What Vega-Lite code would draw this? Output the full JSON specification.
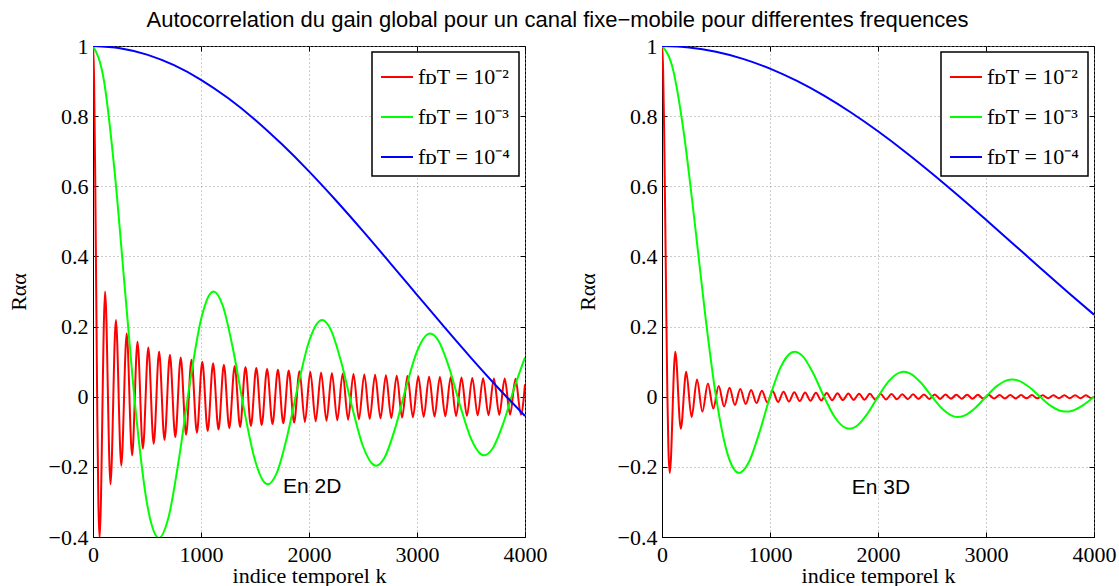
{
  "$schema": "https://vega.github.io/schema/vega-lite/v6.json",
  "padding": {"left": 6, "top": 8, "right": 0, "bottom": 0},
  "background": "white",
  "title": {"text": "Autocorrelation du gain global pour un canal fixe−mobile pour differentes frequences", "font": "Liberation Sans", "fontSize": 22, "fontWeight": "normal", "color": "black", "anchor": "middle", "dx": -4, "offset": 3},
  "config": {
    "view": {"stroke": "black", "strokeWidth": 1},
    "axis": {"labelFont": "Liberation Serif", "labelFontSize": 22, "labelColor": "black", "titleFont": "Liberation Serif", "titleFontSize": 22, "titleFontWeight": "normal", "titleColor": "black", "domainColor": "black", "domainWidth": 1, "tickColor": "black", "tickWidth": 1, "tickSize": -5, "gridColor": "#9a9a9a", "gridDash": [1, 3], "gridWidth": 1, "labelFlush": false, "labelOverlap": false, "labelBound": false},
    "axisX": {"labelPadding": 12, "titlePadding": 0},
    "axisY": {"labelPadding": 10, "titlePadding": 18},
    "legend": {"orient": "top-right", "offset": 6, "strokeColor": "black", "fillColor": "white", "padding": 8, "symbolType": "stroke", "symbolSize": 1024, "symbolStrokeWidth": 2, "labelFont": "Liberation Serif", "labelFontSize": 22, "labelColor": "black", "rowPadding": 12, "labelOffset": 4, "labelLimit": 400, "strokeWidth": 1.5}
  },
  "spacing": 137,
  "bounds": "flush",
  "resolve": {"scale": {"color": "independent"}, "legend": {"color": "independent"}},
  "hconcat": [
    {
      "width": 432,
      "height": 491,
      "resolve": {"axis": {"x": "independent", "y": "independent"}},
      "layer": [
        {
          "data": {"values": [
            {"s":"r","k":0,"v":1},{"s":"r","k":10,"v":0.9037},{"s":"r","k":20,"v":0.6425},{"s":"r","k":30,"v":0.2906},{"s":"r","k":40,"v":-0.0549},{"s":"r","k":50,"v":-0.3042},{"s":"r","k":61,"v":-0.4028},
            {"s":"r","k":112,"v":0.3001},{"s":"r","k":162,"v":-0.2497},{"s":"r","k":212,"v":0.2184},{"s":"r","k":262,"v":-0.1965},{"s":"r","k":312,"v":0.1801},{"s":"r","k":362,"v":-0.1672},{"s":"r","k":412,"v":0.1567},{"s":"r","k":462,"v":-0.148},{"s":"r","k":512,"v":0.1406},
            {"s":"r","k":562,"v":-0.1342},{"s":"r","k":612,"v":0.1286},{"s":"r","k":662,"v":-0.1237},{"s":"r","k":712,"v":0.1193},{"s":"r","k":762,"v":-0.1153},{"s":"r","k":812,"v":0.1117},{"s":"r","k":862,"v":-0.1084},{"s":"r","k":912,"v":0.1054},{"s":"r","k":962,"v":-0.1026},{"s":"r","k":1012,"v":0.1},
            {"s":"r","k":1062,"v":-0.0977},{"s":"r","k":1112,"v":0.0954},{"s":"r","k":1162,"v":-0.0934},{"s":"r","k":1212,"v":0.0914},{"s":"r","k":1262,"v":-0.0896},{"s":"r","k":1312,"v":0.0879},{"s":"r","k":1362,"v":-0.0862},{"s":"r","k":1412,"v":0.0847},{"s":"r","k":1462,"v":-0.0832},{"s":"r","k":1512,"v":0.0819},
            {"s":"r","k":1562,"v":-0.0805},{"s":"r","k":1612,"v":0.0793},{"s":"r","k":1662,"v":-0.0781},{"s":"r","k":1712,"v":0.0769},{"s":"r","k":1762,"v":-0.0758},{"s":"r","k":1812,"v":0.0748},{"s":"r","k":1862,"v":-0.0738},{"s":"r","k":1912,"v":0.0728},{"s":"r","k":1962,"v":-0.0719},{"s":"r","k":2012,"v":0.071},
            {"s":"r","k":2062,"v":-0.0701},{"s":"r","k":2112,"v":0.0693},{"s":"r","k":2162,"v":-0.0685},{"s":"r","k":2212,"v":0.0677},{"s":"r","k":2262,"v":-0.0669},{"s":"r","k":2312,"v":0.0662},{"s":"r","k":2362,"v":-0.0655},{"s":"r","k":2412,"v":0.0648},{"s":"r","k":2462,"v":-0.0642},{"s":"r","k":2512,"v":0.0635},
            {"s":"r","k":2562,"v":-0.0629},{"s":"r","k":2612,"v":0.0623},{"s":"r","k":2662,"v":-0.0617},{"s":"r","k":2712,"v":0.0611},{"s":"r","k":2762,"v":-0.0606},{"s":"r","k":2812,"v":0.06},{"s":"r","k":2862,"v":-0.0595},{"s":"r","k":2912,"v":0.059},{"s":"r","k":2962,"v":-0.0585},{"s":"r","k":3012,"v":0.058},
            {"s":"r","k":3062,"v":-0.0575},{"s":"r","k":3112,"v":0.0571},{"s":"r","k":3162,"v":-0.0566},{"s":"r","k":3212,"v":0.0562},{"s":"r","k":3262,"v":-0.0557},{"s":"r","k":3312,"v":0.0553},{"s":"r","k":3362,"v":-0.0549},{"s":"r","k":3412,"v":0.0545},{"s":"r","k":3462,"v":-0.0541},{"s":"r","k":3512,"v":0.0537},
            {"s":"r","k":3562,"v":-0.0533},{"s":"r","k":3612,"v":0.053},{"s":"r","k":3662,"v":-0.0526},{"s":"r","k":3712,"v":0.0522},{"s":"r","k":3762,"v":-0.0519},{"s":"r","k":3812,"v":0.0516},{"s":"r","k":3862,"v":-0.0512},{"s":"r","k":3912,"v":0.0509},{"s":"r","k":3962,"v":-0.0506},{"s":"r","k":4000,"v":0.0356},
            {"s":"g","k":0,"v":1},{"s":"g","k":100,"v":0.9037},{"s":"g","k":200,"v":0.6425},{"s":"g","k":300,"v":0.2906},{"s":"g","k":400,"v":-0.0549},{"s":"g","k":500,"v":-0.3042},{"s":"g","k":600,"v":-0.4018},{"s":"g","k":610,"v":-0.4028},{"s":"g","k":700,"v":-0.3427},{"s":"g","k":800,"v":-0.1688},{"s":"g","k":900,"v":0.0451},
            {"s":"g","k":1000,"v":0.2202},{"s":"g","k":1100,"v":0.2985},{"s":"g","k":1117,"v":0.3001},{"s":"g","k":1200,"v":0.2608},{"s":"g","k":1300,"v":0.1304},{"s":"g","k":1400,"v":-0.0383},{"s":"g","k":1500,"v":-0.1812},{"s":"g","k":1600,"v":-0.2479},{"s":"g","k":1619,"v":-0.2497},{"s":"g","k":1700,"v":-0.2187},{"s":"g","k":1800,"v":-0.11},{"s":"g","k":1900,"v":0.0337},
            {"s":"g","k":2000,"v":0.1575},{"s":"g","k":2100,"v":0.2165},{"s":"g","k":2121,"v":0.2184},{"s":"g","k":2200,"v":0.192},{"s":"g","k":2300,"v":0.0969},{"s":"g","k":2400,"v":-0.0305},{"s":"g","k":2500,"v":-0.1412},{"s":"g","k":2600,"v":-0.1947},{"s":"g","k":2621,"v":-0.1965},{"s":"g","k":2700,"v":-0.1732},{"s":"g","k":2800,"v":-0.0876},{"s":"g","k":2900,"v":0.028},
            {"s":"g","k":3000,"v":0.1291},{"s":"g","k":3100,"v":0.1784},{"s":"g","k":3122,"v":0.1801},{"s":"g","k":3200,"v":0.159},{"s":"g","k":3300,"v":0.0805},{"s":"g","k":3400,"v":-0.026},{"s":"g","k":3500,"v":-0.1196},{"s":"g","k":3600,"v":-0.1655},{"s":"g","k":3622,"v":-0.1672},{"s":"g","k":3700,"v":-0.1478},{"s":"g","k":3800,"v":-0.0749},{"s":"g","k":3900,"v":0.0244},{"s":"g","k":4000,"v":0.112},
            {"s":"b","k":0,"v":1},{"s":"b","k":250,"v":0.9938},{"s":"b","k":500,"v":0.9755},{"s":"b","k":750,"v":0.9453},{"s":"b","k":1000,"v":0.9037},{"s":"b","k":1250,"v":0.8516},{"s":"b","k":1500,"v":0.79},{"s":"b","k":1750,"v":0.7196},{"s":"b","k":2000,"v":0.6425},
            {"s":"b","k":2250,"v":0.5594},{"s":"b","k":2500,"v":0.472},{"s":"b","k":2750,"v":0.3818},{"s":"b","k":3000,"v":0.2906},{"s":"b","k":3250,"v":0.1997},{"s":"b","k":3500,"v":0.1109},{"s":"b","k":3750,"v":0.0257},{"s":"b","k":4000,"v":-0.0549}
          ]},
          "mark": {"type": "line", "interpolate": "monotone", "strokeWidth": 2, "clip": true},
          "encoding": {
            "x": {"field": "k", "type": "quantitative", "scale": {"domain": [0, 4000], "nice": false}, "axis": {"title": "indice temporel k", "values": [0, 1000, 2000, 3000, 4000], "format": "d", "grid": true}},
            "y": {"field": "v", "type": "quantitative", "scale": {"domain": [-0.4, 1], "nice": false, "zero": false}, "axis": {"title": "Rαα", "values": [-0.4, -0.2, 0, 0.2, 0.4, 0.6, 0.8, 1], "format": "~g", "grid": true}},
            "color": {"field": "s", "type": "nominal", "scale": {"domain": ["r", "g", "b"], "range": ["#ff0000", "#00ff00", "#0000ff"]}, "legend": {"title": null, "labelExpr": "datum.label == 'r' ? 'fᴅT = 10⁻²' : datum.label == 'g' ? 'fᴅT = 10⁻³' : 'fᴅT = 10⁻⁴'"}}
          }
        },
        {
          "data": {"values": [{}]},
          "mark": {"type": "text", "text": "En 2D", "font": "Liberation Sans", "fontSize": 21, "align": "left", "baseline": "middle", "color": "black"},
          "encoding": {
            "x": {"datum": 1760, "type": "quantitative", "scale": {"domain": [0, 4000], "nice": false}, "axis": {"orient": "top", "title": null, "labels": false, "grid": false, "domain": false, "values": [0, 1000, 2000, 3000, 4000]}},
            "y": {"datum": -0.258, "type": "quantitative", "scale": {"domain": [-0.4, 1], "nice": false, "zero": false}, "axis": {"orient": "right", "title": null, "labels": false, "grid": false, "domain": false, "values": [-0.4, -0.2, 0, 0.2, 0.4, 0.6, 0.8, 1]}}
          }
        }
      ]
    },
    {
      "width": 432,
      "height": 491,
      "resolve": {"axis": {"x": "independent", "y": "independent"}},
      "layer": [
        {
          "data": {"values": [
            {"s":"r","k":0,"v":1},{"s":"r","k":10,"v":0.9355},{"s":"r","k":20,"v":0.7569},{"s":"r","k":30,"v":0.5046},{"s":"r","k":40,"v":0.2339},{"s":"r","k":50,"v":0},{"s":"r","k":60,"v":-0.1559},{"s":"r","k":72,"v":-0.2172},
            {"s":"r","k":123,"v":0.1284},{"s":"r","k":174,"v":-0.0913},{"s":"r","k":224,"v":0.0709},{"s":"r","k":274,"v":-0.058},{"s":"r","k":324,"v":0.049},{"s":"r","k":374,"v":-0.0425},{"s":"r","k":425,"v":0.0375},{"s":"r","k":475,"v":-0.0335},{"s":"r","k":525,"v":0.0303},
            {"s":"r","k":575,"v":-0.0277},{"s":"r","k":625,"v":0.0255},{"s":"r","k":675,"v":-0.0236},{"s":"r","k":725,"v":0.022},{"s":"r","k":775,"v":-0.0205},{"s":"r","k":825,"v":0.0193},{"s":"r","k":875,"v":-0.0182},{"s":"r","k":925,"v":0.0172},{"s":"r","k":975,"v":-0.0163},{"s":"r","k":1025,"v":0.0155},
            {"s":"r","k":1075,"v":-0.0148},{"s":"r","k":1125,"v":0.0141},{"s":"r","k":1175,"v":-0.0135},{"s":"r","k":1225,"v":0.013},{"s":"r","k":1275,"v":-0.0125},{"s":"r","k":1325,"v":0.012},{"s":"r","k":1375,"v":-0.0116},{"s":"r","k":1425,"v":0.0112},{"s":"r","k":1475,"v":-0.0108},{"s":"r","k":1525,"v":0.0104},
            {"s":"r","k":1575,"v":-0.0101},{"s":"r","k":1625,"v":0.0098},{"s":"r","k":1675,"v":-0.0095},{"s":"r","k":1725,"v":0.0092},{"s":"r","k":1775,"v":-0.009},{"s":"r","k":1825,"v":0.0087},{"s":"r","k":1875,"v":-0.0085},{"s":"r","k":1925,"v":0.0083},{"s":"r","k":1975,"v":-0.0081},{"s":"r","k":2025,"v":0.0079},
            {"s":"r","k":2075,"v":-0.0077},{"s":"r","k":2125,"v":0.0075},{"s":"r","k":2175,"v":-0.0073},{"s":"r","k":2225,"v":0.0072},{"s":"r","k":2275,"v":-0.007},{"s":"r","k":2325,"v":0.0068},{"s":"r","k":2375,"v":-0.0067},{"s":"r","k":2425,"v":0.0066},{"s":"r","k":2475,"v":-0.0064},{"s":"r","k":2525,"v":0.0063},
            {"s":"r","k":2575,"v":-0.0062},{"s":"r","k":2625,"v":0.0061},{"s":"r","k":2675,"v":-0.0059},{"s":"r","k":2725,"v":0.0058},{"s":"r","k":2775,"v":-0.0057},{"s":"r","k":2825,"v":0.0056},{"s":"r","k":2875,"v":-0.0055},{"s":"r","k":2925,"v":0.0054},{"s":"r","k":2975,"v":-0.0053},{"s":"r","k":3025,"v":0.0053},
            {"s":"r","k":3075,"v":-0.0052},{"s":"r","k":3125,"v":0.0051},{"s":"r","k":3175,"v":-0.005},{"s":"r","k":3225,"v":0.0049},{"s":"r","k":3275,"v":-0.0049},{"s":"r","k":3325,"v":0.0048},{"s":"r","k":3375,"v":-0.0047},{"s":"r","k":3425,"v":0.0046},{"s":"r","k":3475,"v":-0.0046},{"s":"r","k":3525,"v":0.0045},
            {"s":"r","k":3575,"v":-0.0045},{"s":"r","k":3625,"v":0.0044},{"s":"r","k":3675,"v":-0.0043},{"s":"r","k":3725,"v":0.0043},{"s":"r","k":3775,"v":-0.0042},{"s":"r","k":3825,"v":0.0042},{"s":"r","k":3875,"v":-0.0041},{"s":"r","k":3925,"v":0.0041},{"s":"r","k":3975,"v":-0.004},{"s":"r","k":4000,"v":0},
            {"s":"g","k":0,"v":1},{"s":"g","k":100,"v":0.9355},{"s":"g","k":200,"v":0.7568},{"s":"g","k":300,"v":0.5046},{"s":"g","k":400,"v":0.2339},{"s":"g","k":500,"v":0},{"s":"g","k":600,"v":-0.1559},{"s":"g","k":700,"v":-0.2162},{"s":"g","k":715,"v":-0.2172},{"s":"g","k":800,"v":-0.1892},{"s":"g","k":900,"v":-0.1039},
            {"s":"g","k":1000,"v":0},{"s":"g","k":1100,"v":0.0851},{"s":"g","k":1200,"v":0.1261},{"s":"g","k":1230,"v":0.1284},{"s":"g","k":1300,"v":0.1164},{"s":"g","k":1400,"v":0.0668},{"s":"g","k":1500,"v":0},{"s":"g","k":1600,"v":-0.0585},{"s":"g","k":1700,"v":-0.089},{"s":"g","k":1736,"v":-0.0913},{"s":"g","k":1800,"v":-0.0841},{"s":"g","k":1900,"v":-0.0492},
            {"s":"g","k":2000,"v":0},{"s":"g","k":2100,"v":0.0446},{"s":"g","k":2200,"v":0.0688},{"s":"g","k":2239,"v":0.0709},{"s":"g","k":2300,"v":0.0658},{"s":"g","k":2400,"v":0.039},{"s":"g","k":2500,"v":0},{"s":"g","k":2600,"v":-0.036},{"s":"g","k":2700,"v":-0.0561},{"s":"g","k":2741,"v":-0.058},{"s":"g","k":2800,"v":-0.0541},{"s":"g","k":2900,"v":-0.0323},
            {"s":"g","k":3000,"v":0},{"s":"g","k":3100,"v":0.0302},{"s":"g","k":3200,"v":0.0473},{"s":"g","k":3242,"v":0.049},{"s":"g","k":3300,"v":0.0459},{"s":"g","k":3400,"v":0.0275},{"s":"g","k":3500,"v":0},{"s":"g","k":3600,"v":-0.026},{"s":"g","k":3700,"v":-0.0409},{"s":"g","k":3743,"v":-0.0425},{"s":"g","k":3800,"v":-0.0398},{"s":"g","k":3900,"v":-0.024},{"s":"g","k":4000,"v":0},
            {"s":"b","k":0,"v":1},{"s":"b","k":250,"v":0.9959},{"s":"b","k":500,"v":0.9836},{"s":"b","k":750,"v":0.9634},{"s":"b","k":1000,"v":0.9355},{"s":"b","k":1250,"v":0.9003},{"s":"b","k":1500,"v":0.8584},{"s":"b","k":1750,"v":0.8103},{"s":"b","k":2000,"v":0.7568},
            {"s":"b","k":2250,"v":0.6987},{"s":"b","k":2500,"v":0.6366},{"s":"b","k":2750,"v":0.5716},{"s":"b","k":3000,"v":0.5046},{"s":"b","k":3250,"v":0.4363},{"s":"b","k":3500,"v":0.3679},{"s":"b","k":3750,"v":0.3001},{"s":"b","k":4000,"v":0.2339}
          ]},
          "mark": {"type": "line", "interpolate": "monotone", "strokeWidth": 2, "clip": true},
          "encoding": {
            "x": {"field": "k", "type": "quantitative", "scale": {"domain": [0, 4000], "nice": false}, "axis": {"title": "indice temporel k", "values": [0, 1000, 2000, 3000, 4000], "format": "d", "grid": true}},
            "y": {"field": "v", "type": "quantitative", "scale": {"domain": [-0.4, 1], "nice": false, "zero": false}, "axis": {"title": "Rαα", "values": [-0.4, -0.2, 0, 0.2, 0.4, 0.6, 0.8, 1], "format": "~g", "grid": true}},
            "color": {"field": "s", "type": "nominal", "scale": {"domain": ["r", "g", "b"], "range": ["#ff0000", "#00ff00", "#0000ff"]}, "legend": {"title": null, "labelExpr": "datum.label == 'r' ? 'fᴅT = 10⁻²' : datum.label == 'g' ? 'fᴅT = 10⁻³' : 'fᴅT = 10⁻⁴'"}}
          }
        },
        {
          "data": {"values": [{}]},
          "mark": {"type": "text", "text": "En 3D", "font": "Liberation Sans", "fontSize": 21, "align": "left", "baseline": "middle", "color": "black"},
          "encoding": {
            "x": {"datum": 1757, "type": "quantitative", "scale": {"domain": [0, 4000], "nice": false}, "axis": {"orient": "top", "title": null, "labels": false, "grid": false, "domain": false, "values": [0, 1000, 2000, 3000, 4000]}},
            "y": {"datum": -0.26, "type": "quantitative", "scale": {"domain": [-0.4, 1], "nice": false, "zero": false}, "axis": {"orient": "right", "title": null, "labels": false, "grid": false, "domain": false, "values": [-0.4, -0.2, 0, 0.2, 0.4, 0.6, 0.8, 1]}}
          }
        }
      ]
    }
  ]
}
